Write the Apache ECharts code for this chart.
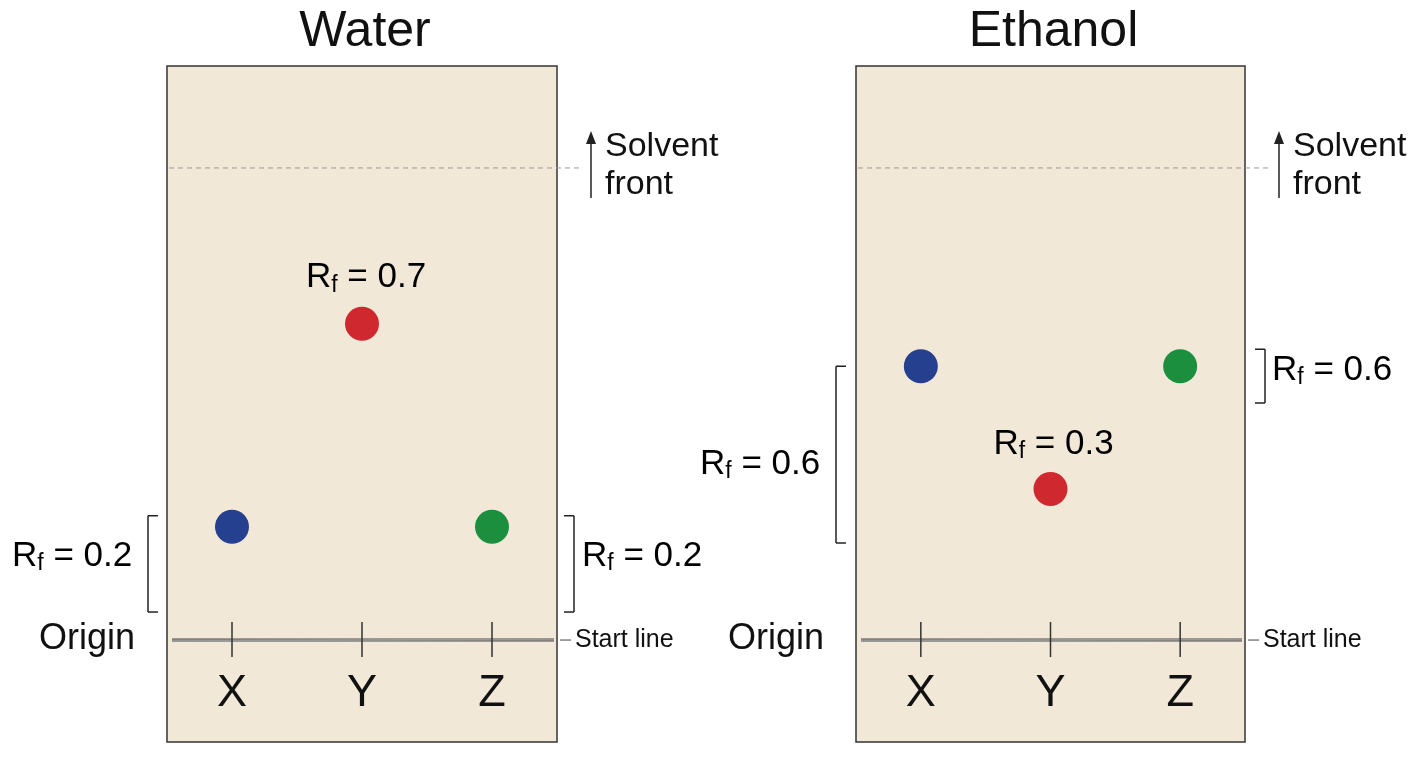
<!DOCTYPE html>
<html><head><meta charset="utf-8">
<script src="https://cdn.jsdelivr.net/npm/echarts@6/dist/echarts.min.js"></script>
<style>html,body{margin:0;background:#fff}#c{width:1408px;height:768px}</style>
</head><body><div id="c"></div>
<script>
const panels = ['Water', 'Ethanol'];
const samples = ['X', 'Y', 'Z'];
const spotColors = ['#25408f', '#d0282f', '#1b8f3d'];
const waterRf = [0.24, 0.67, 0.24];
const ethanolRf = [0.58, 0.32, 0.58];
const waterLabels = ['0.2', '0.7', '0.2'];
const ethanolLabels = ['0.6', '0.3', '0.6'];
const xPos = [0.5, 1.5, 2.5];

const chart = echarts.init(document.getElementById('c'));
const F = '"Liberation Sans", Arial, sans-serif';
const grids = [
  {left: 167, top: 66, width: 390, height: 676},
  {left: 856, top: 66, width: 389, height: 676}
].map(g => Object.assign(g, {show: true, backgroundColor: '#f1e8d7', borderColor: '#333', borderWidth: 1.5}));
const xAxis = [0, 1].map(i => ({gridIndex: i, type: 'value', min: 0, max: 3, show: false}));
const yAxis = [0, 1].map(i => ({gridIndex: i, type: 'value', min: -0.216, max: 1.216, show: false}));
const rfs = [waterRf, ethanolRf];
const series = [0, 1].map(i => ({
  type: 'scatter', xAxisIndex: i, yAxisIndex: i, symbolSize: 34, z: 5,
  data: rfs[i].map((v, k) => ({value: [xPos[k], v], itemStyle: {color: spotColors[k], opacity: 1}}))
}));
chart.setOption({animation: false, grid: grids, xAxis, yAxis, series});

function P(i, x, y) { return chart.convertToPixel({gridIndex: i}, [x, y]); }
const g = [];
const rich = {f: {fontSize: 23, fontFamily: F, color: '#111', padding: [16, 0, 0, 0]}, n: {fontSize: 35, fontFamily: F, color: '#111'}};
function rf(x, y, val, align) {
  g.push({type: 'text', x, y, z: 10, style: {text: '{n|R}{f|f}{n| = ' + val + '}', rich, align: align || 'left', verticalAlign: 'middle'}});
}
function line(x1, y1, x2, y2, st) {
  g.push({type: 'line', z: 8, shape: {x1, y1, x2, y2}, style: Object.assign({stroke: '#222', lineWidth: 1.5}, st || {})});
}
function bracket(x, y1, y2, dir) {
  line(x, y1, x, y2);
  line(x, y1, x + dir * 10, y1);
  line(x, y2, x + dir * 10, y2);
}
[0, 1].forEach(i => {
  const gr = grids[i];
  const cx = gr.left + gr.width / 2;
  const right = gr.left + gr.width;
  g.push({type: 'text', x: cx + 3, y: 32, style: {text: panels[i], fontSize: 50, fontFamily: F, fill: '#111', align: 'center', verticalAlign: 'middle'}});
  const front = P(i, 0, 1)[1], start = P(i, 0, 0)[1];
  line(gr.left + 2, front, right + 26, front, {stroke: '#999', lineWidth: 1, lineDash: [5, 4]});
  line(gr.left + 5, start, right - 3, start, {stroke: '#666', lineWidth: 3.5, opacity: 0.8});
  line(gr.left + 5, start + 1, right - 3, start - 1, {stroke: '#999', lineWidth: 1.5});
  line(right + 3, start, right + 14, start, {stroke: '#444', lineWidth: 1});
  g.push({type: 'text', x: right + 18, y: start, style: {text: 'Start line', fontSize: 25, fontFamily: F, fill: '#111', verticalAlign: 'middle'}});
  g.push({type: 'text', x: gr.left - 32, y: start - 1, style: {text: 'Origin', fontSize: 36, fontFamily: F, fill: '#111', align: 'right', verticalAlign: 'middle'}});
  xPos.forEach((xv, k) => {
    const px = P(i, xv, 0)[0];
    line(px, start - 18, px, start + 17, {stroke: '#333', lineWidth: 1.5});
    g.push({type: 'text', x: px, y: 694, style: {text: samples[k], fontSize: 45, fontFamily: F, fill: '#111', align: 'center', verticalAlign: 'middle'}});
  });
  const ax = right + 34;
  line(ax, 198, ax, 140);
  g.push({type: 'polygon', z: 8, shape: {points: [[ax - 5, 144], [ax + 5, 144], [ax, 131]]}, style: {fill: '#222'}});
  g.push({type: 'text', x: ax + 14, y: 147, style: {text: 'Solvent', fontSize: 34, fontFamily: F, fill: '#111', verticalAlign: 'middle'}});
  g.push({type: 'text', x: ax + 14, y: 185, style: {text: 'front', fontSize: 34, fontFamily: F, fill: '#111', verticalAlign: 'middle'}});
});
{
  const yX = P(0, 0, waterRf[0])[1], s = P(0, 0, 0)[1];
  bracket(148, yX - 11, s - 28, 1);
  bracket(574, yX - 11, s - 28, -1);
  rf(12, 556, waterLabels[0]);
  rf(582, 556, waterLabels[2]);
  const yy = P(0, 1.5, waterRf[1]);
  rf(yy[0] + 4, yy[1] - 46, waterLabels[1], 'center');
}
{
  const yX = P(1, 0, ethanolRf[0])[1];
  bracket(836, yX, 543, 1);
  bracket(1265, yX - 17, 403, -1);
  rf(700, 464, ethanolLabels[0]);
  rf(1272, 370, ethanolLabels[2]);
  const yy = P(1, 1.5, ethanolRf[1]);
  rf(yy[0] + 3, yy[1] - 45, ethanolLabels[1], 'center');
}
chart.setOption({graphic: g});
</script></body></html>
